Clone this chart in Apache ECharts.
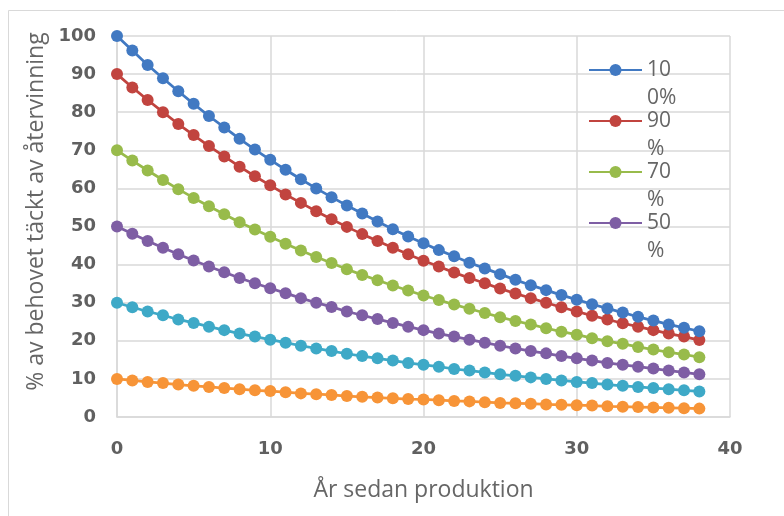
<!DOCTYPE html>
<html>
<head>
<meta charset="utf-8">
<script src="https://cdn.jsdelivr.net/npm/echarts@6/dist/echarts.min.js"></script>
<style>html,body{margin:0;padding:0;background:#fff;}#c{width:784px;height:516px;}</style>
</head>
<body>
<div id="c"></div>
<script>
var years = [0,1,2,3,4,5,6,7,8,9,10,11,12,13,14,15,16,17,18,19,20,21,22,23,24,25,26,27,28,29,30,31,32,33,34,35,36,37,38];
var seriesNames = ['100%', '90%', '70%', '50%', '30%', '10%'];
var legendLabels = ['10\n0%', '90\n%', '70\n%', '50\n%'];
var s100 = [100,96.2,92.4,88.9,85.5,82.2,79.0,76.0,73.0,70.2,67.5,64.9,62.4,60.0,57.7,55.5,53.4,51.3,49.3,47.4,45.6,43.8,42.2,40.5,39.0,37.5,36.0,34.6,33.3,32.0,30.8,29.6,28.5,27.4,26.3,25.3,24.3,23.4,22.5];
var s90 = [90,86.5,83.2,80.0,76.9,74.0,71.1,68.4,65.7,63.2,60.8,58.4,56.2,54.0,51.9,49.9,48.0,46.2,44.4,42.7,41.0,39.5,37.9,36.5,35.1,33.7,32.4,31.2,30.0,28.8,27.7,26.6,25.6,24.6,23.7,22.8,21.9,21.1,20.2];
var s70 = [70,67.3,64.7,62.2,59.8,57.5,55.3,53.2,51.1,49.2,47.3,45.5,43.7,42.0,40.4,38.8,37.3,35.9,34.5,33.2,31.9,30.7,29.5,28.4,27.3,26.2,25.2,24.3,23.3,22.4,21.6,20.7,19.9,19.2,18.4,17.7,17.0,16.4,15.7];
var s50 = [50,48.1,46.2,44.4,42.7,41.1,39.5,38.0,36.5,35.1,33.8,32.5,31.2,30.0,28.9,27.7,26.7,25.7,24.7,23.7,22.8,21.9,21.1,20.3,19.5,18.7,18.0,17.3,16.7,16.0,15.4,14.8,14.2,13.7,13.2,12.7,12.2,11.7,11.2];
var s30 = [30,28.8,27.7,26.7,25.6,24.7,23.7,22.8,21.9,21.1,20.3,19.5,18.7,18.0,17.3,16.6,16.0,15.4,14.8,14.2,13.7,13.2,12.6,12.2,11.7,11.2,10.8,10.4,10.0,9.6,9.2,8.9,8.5,8.2,7.9,7.6,7.3,7.0,6.7];
var s10 = [10,9.6,9.2,8.9,8.5,8.2,7.9,7.6,7.3,7.0,6.8,6.5,6.2,6.0,5.8,5.5,5.3,5.1,4.9,4.7,4.6,4.4,4.2,4.1,3.9,3.7,3.6,3.5,3.3,3.2,3.1,3.0,2.8,2.7,2.6,2.5,2.4,2.3,2.2];
var allValues = [s100, s90, s70, s50, s30, s10];
var colors = ['#4179C2', '#C1443F', '#98BB4B', '#7E5EA4', '#3EA9C7', '#F79437'];
var xTicks = [0, 10, 20, 30, 40];
var yTicks = [0, 10, 20, 30, 40, 50, 60, 70, 80, 90, 100];

var chart = echarts.init(document.getElementById('c'), null, {renderer: 'canvas'});
var series = seriesNames.map(function (n, i) {
  return {
    name: n,
    type: 'line',
    data: years.map(function (x, j) { return [x, allValues[i][j]]; }),
    symbol: 'circle',
    symbolSize: 12,
    lineStyle: {width: 2.75, color: colors[i]},
    itemStyle: {color: colors[i]},
    emphasis: {disabled: true},
    animation: false,
    z: 10 - i
  };
});
var legendTops = [70, 121, 172, 223];
var legends = legendLabels.map(function (lab, i) {
  return {
    data: [seriesNames[i]],
    left: 588,
    top: legendTops[i] - 42,
    padding: 0,
    itemWidth: 53,
    itemHeight: 15,
    itemGap: 0,
    selectedMode: false,
    formatter: function () { return ' \n' + lab; },
    textStyle: {fontFamily: 'Open Sans', fontSize: 21, color: '#666666', lineHeight: 28}
  };
});
chart.setOption({
  animation: false,
  backgroundColor: '#ffffff',
  color: colors,
  grid: {left: 117, right: 54, top: 36, bottom: 99, containLabel: false},
  legend: legends,
  graphic: [{
    type: 'rect', shape: {x: 8.5, y: 10.5, width: 800, height: 600},
    style: {fill: 'none', stroke: '#D9D9D9', lineWidth: 1}, silent: true, z: -1
  }],
  xAxis: {
    type: 'value', min: 0, max: 40, interval: 10,
    name: 'År sedan produktion', nameLocation: 'middle', nameGap: 62,
    nameTextStyle: {fontFamily: 'Open Sans', fontSize: 23, color: '#666666'},
    axisLine: {show: true, lineStyle: {color: '#D9D9D9', width: 1.5}},
    axisTick: {show: false},
    axisLabel: {margin: 23, fontFamily: 'DejaVu Sans', fontWeight: 'bold', fontSize: 18, color: '#606060',
      formatter: function (v) { return xTicks.indexOf(v) >= 0 ? String(v) : ''; }},
    splitLine: {show: true, lineStyle: {color: '#D9D9D9', width: 1.5}}
  },
  yAxis: {
    type: 'value', min: 0, max: 100, interval: 10,
    name: '% av behovet täckt av återvinning', nameLocation: 'middle', nameGap: 64,
    nameTextStyle: {fontFamily: 'Open Sans', fontSize: 23, color: '#666666', padding: [0, 0, 0, 30]},
    axisLine: {show: true, lineStyle: {color: '#D9D9D9', width: 1.5}},
    axisTick: {show: false},
    axisLabel: {margin: 21, fontFamily: 'DejaVu Sans', fontWeight: 'bold', fontSize: 18, color: '#606060',
      formatter: function (v) { return yTicks.indexOf(v) >= 0 ? String(v) : ''; }},
    splitLine: {show: true, lineStyle: {color: '#D9D9D9', width: 1.5}}
  },
  series: series
});
</script>
</body>
</html>
